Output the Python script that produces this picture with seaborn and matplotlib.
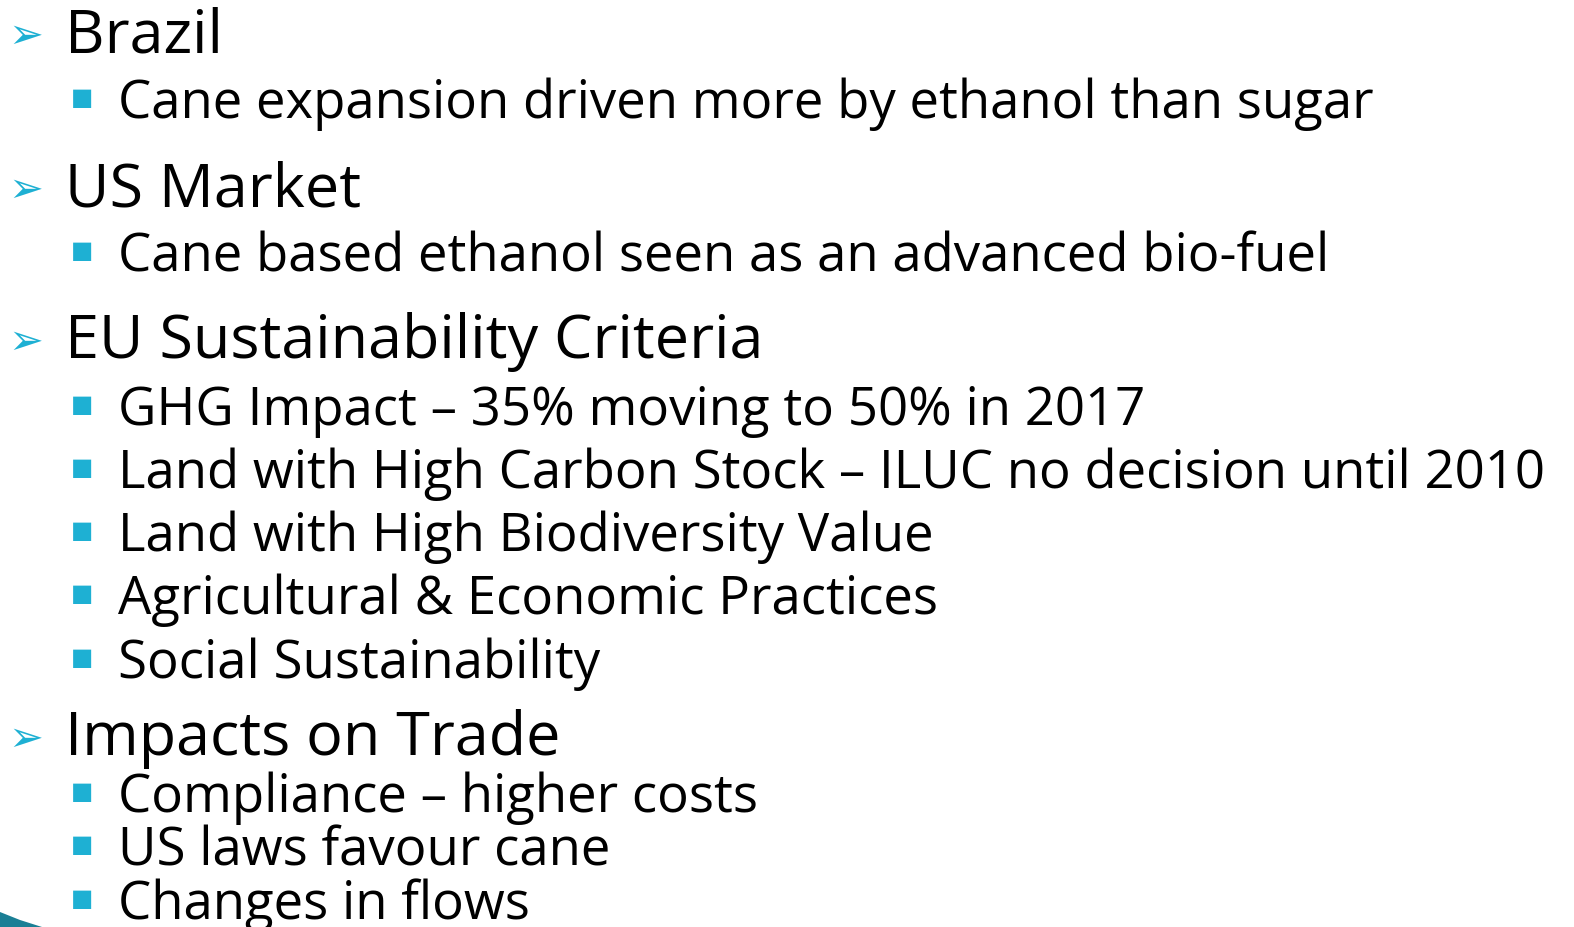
import matplotlib
matplotlib.use("Agg")
from matplotlib import pyplot as plt
import seaborn as sns

# slide content: (level, text)
levels = [1, 2, 1, 2, 1, 2, 2, 2, 2, 2, 1, 2, 2, 2]
lines = [
    "Brazil",
    "Cane expansion driven more by ethanol than sugar",
    "US Market",
    "Cane based ethanol seen as an advanced bio-fuel",
    "EU Sustainability Criteria",
    "GHG Impact \u2013 35% moving to 50% in 2017",
    "Land with High Carbon Stock \u2013 ILUC no decision until 2010",
    "Land with High Biodiversity Value",
    "Agricultural & Economic Practices",
    "Social Sustainability",
    "Impacts on Trade",
    "Compliance \u2013 higher costs",
    "US laws favour cane",
    "Changes in flows",
]
baselines = [52, 118, 206, 271, 358, 425, 488, 551, 614, 678, 755, 812, 865, 919]

sns.set_theme(style="white")
plt.rcParams["font.family"] = ["Open Sans", "DejaVu Sans"]

cyan = "#1eb0d3"
W, H = 1574, 927
fig = plt.figure(figsize=(W / 100, H / 100), dpi=100)
ax = fig.add_axes([0, 0, 1, 1])
ax.set_xlim(0, W)
ax.set_ylim(H, 0)
ax.axis("off")

for lvl, txt, yb in zip(levels, lines, baselines):
    if lvl == 1:
        ax.text(26, yb - 16, "\u27a2", fontsize=30, color=cyan, ha="center",
                va="center", family="DejaVu Sans")
        ax.text(65, yb, txt, fontsize=44, color="black", va="baseline")
    else:
        ax.text(82, yb - 20, "\u25a0", fontsize=17, color=cyan, ha="center",
                va="center", family="DejaVu Sans")
        ax.text(118, yb, txt, fontsize=38, color="black", va="baseline")

# corner swoosh
ax.fill([0, 0, 20, 42], [927, 912, 920, 927], color="#1a7f95", lw=0)

fig.savefig("out.png", dpi=100)
